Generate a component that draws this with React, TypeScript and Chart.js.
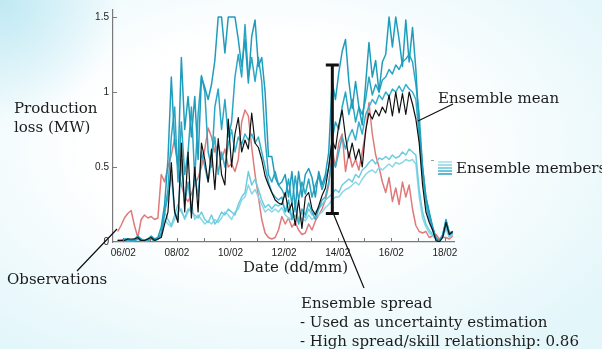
import { useEffect, useRef } from "react";
import { Chart, registerables } from "chart.js";

Chart.register(...registerables);

// Time grid: 3-hourly steps starting 05/02 19:00 (day-of-February as a number)
const startDay = 5.7917;
const stepDays = 0.125;

const obs = [
  0.07, 0.11, 0.16, 0.19, 0.21, 0.11, 0.03, 0.15, 0.18, 0.16,
  0.17, 0.15, 0.16, 0.45, 0.40, 0.50, 0.58, 0.69, 0.50, 0.38,
  0.30, 0.27, 0.32, 0.38, 0.43, 0.50, 0.62, 0.76, 0.70, 0.60,
  0.65, 0.55, 0.62, 0.50, 0.52, 0.47, 0.55, 0.80, 0.88, 0.84,
  0.63, 0.45, 0.30, 0.15, 0.06, 0.03, 0.02, 0.03, 0.08, 0.17,
  0.12, 0.16, 0.10, 0.13, 0.08, 0.05, 0.06, 0.12, 0.08, 0.14,
  0.18, 0.22, 0.28, 0.38, 0.62, 0.50, 0.66, 0.72, 0.47, 0.60,
  0.50, 0.55, 0.48, 0.60, 0.73, 0.93, 0.72, 0.58, 0.50, 0.40,
  0.33, 0.43, 0.27, 0.36, 0.25, 0.40, 0.30, 0.38, 0.22, 0.11,
  0.07, 0.06, 0.07, 0.03, 0.04, 0.05, 0.02, 0.03, 0.03, 0.02, 0.04,
];

const ensembleMean = [
  0.01, 0.01, 0.01, 0.02, 0.02, 0.02, 0.03, 0.01, 0.01, 0.02,
  0.03, 0.01, 0.02, 0.03, 0.12, 0.20, 0.53, 0.20, 0.13, 0.66,
  0.20, 0.60, 0.16, 0.50, 0.20, 0.66, 0.55, 0.40, 0.62, 0.35,
  0.69, 0.45, 0.38, 0.82, 0.50, 0.72, 0.83, 0.60, 0.68, 0.62,
  0.86, 0.66, 0.63, 0.55, 0.44, 0.38, 0.33, 0.28, 0.26, 0.25,
  0.33, 0.20, 0.26, 0.11, 0.28, 0.09, 0.30, 0.33, 0.22, 0.18,
  0.24, 0.31, 0.36, 0.50, 0.68, 0.62, 0.78, 0.88, 0.70, 0.56,
  0.66, 0.55, 0.62, 0.50, 0.74, 0.86, 0.82, 0.88, 0.84, 0.90,
  0.86, 0.98, 0.84, 1.00, 0.86, 0.99, 0.85, 1.00, 0.92, 0.82,
  0.66, 0.38, 0.20, 0.13, 0.08, 0.01, 0.00, 0.03, 0.13, 0.05, 0.07,
];

const member1 = [
  0.01, 0.01, 0.02, 0.02, 0.01, 0.02, 0.04, 0.02, 0.01, 0.02,
  0.04, 0.02, 0.03, 0.10, 0.25, 0.55, 1.10, 0.66, 0.50, 1.23,
  0.75, 0.97, 0.70, 0.97, 0.55, 1.10, 1.03, 0.95, 1.05, 1.21,
  1.50, 1.50, 1.26, 1.50, 1.50, 1.50, 1.35, 1.17, 1.35, 1.06,
  1.37, 1.48, 1.17, 1.23, 1.00, 0.57, 0.57, 0.43, 0.38, 0.40,
  0.45, 0.30, 0.47, 0.22, 0.47, 0.30, 0.45, 0.49, 0.43, 0.30,
  0.47, 0.38, 0.45, 0.60, 1.07, 0.95, 1.13, 1.27, 1.35, 1.07,
  0.89, 1.07, 0.90, 0.78, 1.05, 1.33, 1.10, 1.21, 1.00, 1.20,
  1.25, 1.50, 1.30, 1.50, 1.35, 1.17, 1.48, 1.20, 1.43, 1.15,
  0.75, 0.50, 0.30, 0.20, 0.10, 0.03, 0.00, 0.04, 0.15, 0.06, 0.07,
];

const member2 = [
  0.01, 0.01, 0.01, 0.02, 0.01, 0.01, 0.02, 0.01, 0.01, 0.02,
  0.03, 0.01, 0.02, 0.05, 0.20, 0.35, 0.70, 0.90, 0.40, 0.80,
  0.45, 0.60, 0.90, 0.42, 0.85, 1.11, 1.00, 0.60, 0.50, 0.90,
  1.02, 0.75, 0.95, 0.70, 0.80, 1.10, 1.25, 1.10, 1.45, 1.10,
  1.23, 1.07, 1.23, 1.07, 0.69, 0.45, 0.40, 0.47, 0.38, 0.35,
  0.30, 0.42, 0.25, 0.44, 0.28, 0.40, 0.32, 0.42, 0.30, 0.38,
  0.44, 0.35, 0.42, 0.50, 0.68, 0.80, 0.75, 0.90, 1.00, 0.85,
  0.95, 0.80, 0.90, 0.85, 0.95, 1.10, 0.98, 1.05, 1.00, 1.08,
  1.10, 1.15, 1.12, 1.18, 1.15, 1.20, 1.22, 1.25, 1.20, 1.05,
  0.85, 0.50, 0.30, 0.18, 0.10, 0.02, 0.01, 0.05, 0.14, 0.06, 0.06,
];

const member3 = [
  0.01, 0.01, 0.01, 0.01, 0.01, 0.01, 0.02, 0.01, 0.01, 0.01,
  0.02, 0.01, 0.02, 0.06, 0.20, 0.30, 0.45, 0.20, 0.15, 0.55,
  0.25, 0.40, 0.20, 0.45, 0.30, 0.60, 0.50, 0.40, 0.55, 0.70,
  0.45, 0.60, 0.50, 0.65, 0.75, 0.60, 0.70, 0.65, 0.72, 0.68,
  0.72, 0.66, 0.70, 0.60, 0.50, 0.40, 0.33, 0.30, 0.28, 0.30,
  0.20, 0.28, 0.15, 0.25, 0.12, 0.22, 0.18, 0.26, 0.20, 0.15,
  0.22, 0.28, 0.30, 0.40, 0.55, 0.50, 0.60, 0.70, 0.62, 0.70,
  0.75, 0.68, 0.80, 0.72, 0.85, 0.90, 0.95, 0.92, 0.98, 0.95,
  1.00, 0.97, 1.02, 1.00, 1.04, 1.00, 1.05, 1.02, 1.00, 0.95,
  0.70, 0.45, 0.25, 0.15, 0.08, 0.02, 0.01, 0.04, 0.12, 0.05, 0.06,
];

const member4 = [
  0.01, 0.01, 0.01, 0.01, 0.01, 0.01, 0.02, 0.01, 0.01, 0.01,
  0.02, 0.01, 0.02, 0.05, 0.20, 0.15, 0.11, 0.18, 0.25, 0.20,
  0.16, 0.22, 0.20, 0.18, 0.16, 0.20, 0.15, 0.13, 0.18, 0.12,
  0.15, 0.20, 0.18, 0.22, 0.20, 0.18, 0.25, 0.30, 0.33, 0.47,
  0.38, 0.42, 0.35, 0.28, 0.23, 0.25, 0.22, 0.25, 0.24, 0.26,
  0.22, 0.20, 0.18, 0.22, 0.15, 0.20, 0.16, 0.22, 0.18, 0.20,
  0.22, 0.25, 0.28, 0.30, 0.32, 0.35, 0.33, 0.38, 0.40, 0.42,
  0.40, 0.45, 0.43, 0.48, 0.50, 0.53, 0.55, 0.52, 0.56, 0.55,
  0.57, 0.55, 0.58, 0.56, 0.57, 0.60, 0.58, 0.62, 0.60, 0.58,
  0.35, 0.20, 0.12, 0.08, 0.05, 0.02, 0.01, 0.03, 0.10, 0.04, 0.05,
];

const member5 = [
  0.01, 0.01, 0.01, 0.01, 0.01, 0.01, 0.02, 0.01, 0.01, 0.01,
  0.02, 0.01, 0.02, 0.04, 0.15, 0.12, 0.10, 0.15, 0.20, 0.22,
  0.15, 0.20, 0.25, 0.15, 0.18, 0.15, 0.12, 0.14, 0.12, 0.15,
  0.13, 0.16, 0.20, 0.18, 0.15, 0.20, 0.22, 0.28, 0.30, 0.38,
  0.32, 0.35, 0.30, 0.25, 0.20, 0.22, 0.20, 0.22, 0.20, 0.23,
  0.18, 0.16, 0.15, 0.18, 0.13, 0.16, 0.14, 0.18, 0.15, 0.17,
  0.18, 0.20, 0.23, 0.25, 0.28, 0.30, 0.30, 0.33, 0.35, 0.36,
  0.38, 0.40, 0.38, 0.42, 0.45, 0.47, 0.48, 0.46, 0.50, 0.48,
  0.50, 0.52, 0.50, 0.53, 0.52, 0.53, 0.55, 0.54, 0.55, 0.52,
  0.30, 0.16, 0.10, 0.06, 0.04, 0.02, 0.01, 0.03, 0.09, 0.03, 0.05,
];

const xTickDays = [6, 8, 10, 12, 14, 16, 18];
const xTickLabels = ["06/02", "08/02", "10/02", "12/02", "14/02", "16/02", "18/02"];
const yTickValues = [0, 0.5, 1, 1.5];
const yTickLabels = ["0", "0.5", "1", "1.5"];

// Ensemble spread error bar (day, low, high in MW)
const spreadDay = 13.8;
const spreadLow = 0.19;
const spreadHigh = 1.18;

const SERIF = "'DejaVu Serif', serif";
const TICKFONT = "'Liberation Sans Narrow', 'Liberation Sans', Arial, sans-serif";

const annotationPlugin = {
  id: "annotations",
  afterDraw(chart: any) {
    const ctx = chart.ctx as CanvasRenderingContext2D;
    const xs = chart.scales.x;
    const ys = chart.scales.y;
    const area = chart.chartArea;
    ctx.save();

    // inward tick marks
    ctx.strokeStyle = "#7a7a7a";
    ctx.lineWidth = 1;
    xs.ticks.forEach((t: any) => {
      const px = Math.round(xs.getPixelForValue(t.value)) + 0.5;
      ctx.beginPath();
      ctx.moveTo(px, area.bottom);
      ctx.lineTo(px, area.bottom - 4);
      ctx.stroke();
    });
    ys.ticks.forEach((t: any) => {
      if (t.value === 0) return;
      const py = Math.round(ys.getPixelForValue(t.value)) + 0.5;
      ctx.beginPath();
      ctx.moveTo(area.left, py);
      ctx.lineTo(area.left + 4, py);
      ctx.stroke();
    });

    // ensemble spread error bar
    const ex = xs.getPixelForValue(spreadDay);
    const ey1 = ys.getPixelForValue(spreadHigh);
    const ey2 = ys.getPixelForValue(spreadLow);
    ctx.strokeStyle = "#111";
    ctx.lineWidth = 3;
    ctx.beginPath();
    ctx.moveTo(ex, ey1);
    ctx.lineTo(ex, ey2);
    ctx.moveTo(ex - 6.5, ey1);
    ctx.lineTo(ex + 6.5, ey1);
    ctx.moveTo(ex - 6.5, ey2);
    ctx.lineTo(ex + 6.5, ey2);
    ctx.stroke();

    // pointer lines
    ctx.lineWidth = 1.2;
    ctx.strokeStyle = "#111";
    ctx.beginPath();
    ctx.moveTo(77, 271);
    ctx.lineTo(117, 229);
    ctx.moveTo(418, 121);
    ctx.lineTo(453, 104);
    ctx.moveTo(ex + 1, ey2);
    ctx.lineTo(364, 288);
    ctx.stroke();

    // members legend glyph
    const glyphColors = ["#a3dfea", "#86d3e3", "#62c4da", "#3fb2cc", "#2a9fbd"];
    ctx.lineWidth = 1.5;
    glyphColors.forEach((c, k) => {
      ctx.strokeStyle = c;
      ctx.beginPath();
      ctx.moveTo(438, 162 + k * 3);
      ctx.lineTo(452, 162 + k * 3);
      ctx.stroke();
    });
    ctx.strokeStyle = "#9a9a9a";
    ctx.lineWidth = 1;
    ctx.beginPath();
    ctx.moveTo(431, 160.5);
    ctx.lineTo(434, 160.5);
    ctx.stroke();

    // texts
    ctx.fillStyle = "#1c1c1c";
    ctx.font = `15px ${SERIF}`;
    ctx.textAlign = "left";
    ctx.textBaseline = "alphabetic";
    ctx.fillText("Production", 14, 113);
    ctx.fillText("loss (MW)", 14, 132);
    ctx.fillText("Date (dd/mm)", 243, 272);
    ctx.fillText("Ensemble mean", 438, 103);
    ctx.fillText("Ensemble members", 456, 173);
    ctx.fillText("Observations", 7, 284);
    ctx.fillText("Ensemble spread", 301, 308);
    ctx.fillText("- Used as uncertainty estimation", 300, 327);
    ctx.fillText("- High spread/skill relationship: 0.86", 300, 346);
    ctx.restore();
  },
};

export default function App() {
  const ref = useRef<HTMLCanvasElement>(null);

  useEffect(() => {
    if (!ref.current) return;
    const times = obs.map((_, i) => startDay + i * stepDays);
    const pts = (arr: number[]) => arr.map((y, i) => ({ x: times[i], y }));
    const lineDs = (label: string, arr: number[], color: string, width: number) => ({
      label,
      data: pts(arr),
      borderColor: color,
      backgroundColor: color,
      borderWidth: width,
      pointRadius: 0,
      tension: 0,
      fill: false,
      borderJoinStyle: "round" as const,
    });

    const chart = new Chart(ref.current, {
      type: "line",
      data: {
        datasets: [
          lineDs("Ensemble mean", ensembleMean, "#111111", 1.2),
          lineDs("Member 1", member1, "#1f9cbc", 1.5),
          lineDs("Member 2", member2, "#2aa6c4", 1.5),
          lineDs("Member 3", member3, "#38b0cb", 1.5),
          lineDs("Member 4", member4, "#6ccde0", 1.5),
          lineDs("Member 5", member5, "#8ad7e6", 1.5),
          lineDs("Observations", obs, "#e07a7a", 1.5),
        ],
      },
      options: {
        responsive: false,
        animation: false,
        events: [],
        layout: { padding: { left: 0, top: 10, right: 148, bottom: 0 } },
        plugins: {
          legend: { display: false },
          tooltip: { enabled: false },
          title: { display: false },
        },
        scales: {
          x: {
            type: "linear",
            min: 5.616,
            max: 18.34,
            afterFit: (s: any) => {
              s.height = 107;
            },
            grid: { display: false, drawTicks: false },
            border: { display: true, color: "#7a7a7a", width: 1.2 },
            ticks: {
              stepSize: 1,
              includeBounds: false,
              autoSkip: false,
              maxRotation: 0,
              padding: 5,
              color: "#222",
              font: { family: TICKFONT, size: 10 },
              callback: (v: any) => {
                const k = xTickDays.indexOf(Number(v));
                return k >= 0 ? xTickLabels[k] : "";
              },
            },
          },
          y: {
            type: "linear",
            min: 0,
            max: 1.5467,
            afterFit: (s: any) => {
              s.width = 113;
            },
            grid: { display: false, drawTicks: false },
            border: { display: true, color: "#7a7a7a", width: 1.2 },
            ticks: {
              stepSize: 0.5,
              includeBounds: false,
              autoSkip: false,
              padding: 4,
              color: "#222",
              font: { family: TICKFONT, size: 10 },
              callback: (v: any) => {
                const k = yTickValues.indexOf(Number(v));
                return k >= 0 ? yTickLabels[k] : "";
              },
            },
          },
        },
      },
      plugins: [annotationPlugin],
    });
    return () => chart.destroy();
  }, []);

  return (
    <div
      style={{
        position: "fixed",
        left: 0,
        top: 0,
        width: 602,
        height: 349,
        overflow: "hidden",
        background:
          "radial-gradient(circle at 0% 0%, rgba(190,232,243,0.95) 0px, rgba(190,232,243,0) 120px), radial-gradient(ellipse at 45% 42%, #ffffff 38%, #e3f6fa 88%)",
      }}
    >
      <canvas ref={ref} width={602} height={349} style={{ display: "block", width: 602, height: 349 }} />
    </div>
  );
}
